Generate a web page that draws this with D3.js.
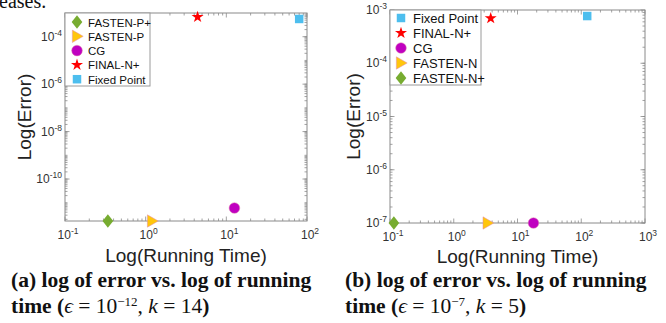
<!DOCTYPE html>
<html>
<head>
<meta charset="utf-8">
<script src="https://cdn.jsdelivr.net/npm/d3@7"></script>
<style>
  body { margin: 0; background: #fff; }
  svg { display: block; }
</style>
</head>
<body>
<div id="chart"></div>
<script>
// panel (a): eps = 1e-12, k = 14
const methodsA = ['FASTEN-P+', 'FASTEN-P', 'CG', 'FINAL-N+', 'Fixed Point'];
const timeA = [0.34, 1.2, 12.6, 4.4, 80];
const errorA = [1.7e-12, 1.7e-12, 6e-12, 6.8e-4, 5.6e-4];
const xDomainA = [0.1, 100];
const yDomainA = [1.7e-12, 1e-3];
const yTicksA = [-10, -8, -6, -4];
const xTicksA = [-1, 0, 1, 2];

// panel (b): eps = 1e-7, k = 5
const methodsB = ['Fixed Point', 'FINAL-N+', 'CG', 'FASTEN-N', 'FASTEN-N+'];
const timeB = [124, 3.8, 17.8, 3.4, 0.115];
const errorB = [7.7e-4, 7e-4, 1e-7, 1e-7, 1e-7];
const xDomainB = [0.1, 1000];
const yDomainB = [1e-7, 1e-3];
const yTicksB = [-7, -6, -5, -4, -3];
const xTicksB = [-1, 0, 1, 2, 3];

const style = {
  'FASTEN-P+': 'diamond', 'FASTEN-N+': 'diamond',
  'FASTEN-P': 'triangle', 'FASTEN-N': 'triangle',
  'CG': 'circle', 'FINAL-N+': 'star', 'Fixed Point': 'square'
};
const colors = {
  diamond: '#77ac30', triangle: '#ffc60c', circle: '#c000c0',
  star: '#ff0000', square: '#4dbeee'
};

const W = 666, H = 323;
const svg = d3.select('#chart').append('svg').attr('width', W).attr('height', H);

// custom matlab-like marker shapes
const wideDiamond = {
  draw(ctx, size) {
    const h = Math.sqrt(size) * 0.72, w = h * 0.78;
    ctx.moveTo(0, -h); ctx.lineTo(w, 0); ctx.lineTo(0, h); ctx.lineTo(-w, 0); ctx.closePath();
  }
};
const rightTriangle = {
  draw(ctx, size) {
    const r = Math.sqrt(size) * 0.62;
    ctx.moveTo(r, 0); ctx.lineTo(-r * 0.75, -r); ctx.lineTo(-r * 0.75, r); ctx.closePath();
  }
};
const shapes = {
  diamond: [wideDiamond, 90],
  triangle: [rightTriangle, 100],
  circle: [d3.symbolCircle, 90],
  star: [d3.symbolStar, 45],
  square: [d3.symbolSquare, 72]
};
function marker(g, kind, x, y) {
  const [type, size] = shapes[kind];
  g.append('path')
    .attr('d', d3.symbol(type, size)())
    .attr('transform', `translate(${x},${y})`)
    .attr('fill', colors[kind])
    .attr('stroke', kind === 'triangle' || kind === 'circle' ? '#e08ab0' : 'none')
    .attr('stroke-width', 0.5);
}

function powLabel(sel, e, anchor) {
  const t = sel.append('text')
    .attr('text-anchor', anchor)
    .style('font-family', 'Liberation Sans, Arial, sans-serif')
    .style('font-size', '12px')
    .attr('fill', '#333');
  t.append('tspan').text('10');
  t.append('tspan').attr('dy', -5).style('font-size', '8.5px').text(e);
  return t;
}

function drawPanel(cfg) {
  const { left, right, top, bottom } = cfg.box;
  const x = d3.scaleLog().domain(cfg.xDomain).range([left, right]);
  const y = d3.scaleLog().domain(cfg.yDomain).range([bottom, top]);
  const g = svg.append('g');
  const axisColor = '#8a8a8a';

  // minor ticks
  const minorX = [];
  for (let e = cfg.xTicks[0]; e < cfg.xTicks[cfg.xTicks.length - 1]; e++)
    for (let m = 2; m <= 9; m++) minorX.push(m * Math.pow(10, e));
  const minorY = [];
  const e0 = Math.floor(Math.log10(cfg.yDomain[0])), e1 = Math.ceil(Math.log10(cfg.yDomain[1]));
  for (let e = e0; e < e1; e++)
    for (let m = 1; m <= 9; m++) {
      const v = m * Math.pow(10, e);
      if (v >= cfg.yDomain[0] && v <= cfg.yDomain[1]) minorY.push(v);
    }

  const tk = g.append('g').attr('stroke', axisColor).attr('stroke-width', 0.8);
  minorX.forEach(v => {
    tk.append('line').attr('x1', x(v)).attr('x2', x(v)).attr('y1', bottom).attr('y2', bottom - 2.5);
    tk.append('line').attr('x1', x(v)).attr('x2', x(v)).attr('y1', top).attr('y2', top + 2.5);
  });
  minorY.forEach(v => {
    tk.append('line').attr('x1', left).attr('x2', left + 2.5).attr('y1', y(v)).attr('y2', y(v));
    tk.append('line').attr('x1', right).attr('x2', right - 2.5).attr('y1', y(v)).attr('y2', y(v));
  });
  cfg.xTicks.forEach(e => {
    const v = Math.pow(10, e);
    tk.append('line').attr('x1', x(v)).attr('x2', x(v)).attr('y1', bottom).attr('y2', bottom - 4.5);
    tk.append('line').attr('x1', x(v)).attr('x2', x(v)).attr('y1', top).attr('y2', top + 4.5);
    powLabel(g, e, 'middle').attr('x', x(v) + 3).attr('y', bottom + cfg.xLabelDy);
  });
  cfg.yTicks.forEach(e => {
    const v = Math.pow(10, e);
    tk.append('line').attr('x1', left).attr('x2', left + 4.5).attr('y1', y(v)).attr('y2', y(v));
    tk.append('line').attr('x1', right).attr('x2', right - 4.5).attr('y1', y(v)).attr('y2', y(v));
    powLabel(g, e, 'end').attr('x', left - 3).attr('y', y(v) + 4);
  });

  g.append('rect')
    .attr('x', left).attr('y', top)
    .attr('width', right - left).attr('height', bottom - top)
    .attr('fill', 'none').attr('stroke', axisColor).attr('stroke-width', 1);

  // axis titles
  g.append('text')
    .attr('x', (left + right) / 2).attr('y', cfg.xTitleY)
    .attr('text-anchor', 'middle')
    .style('font-family', 'Liberation Sans, Arial, sans-serif')
    .style('font-size', '19px').attr('fill', '#222')
    .text('Log(Running Time)');
  g.append('text')
    .attr('transform', `translate(${cfg.yTitleX},${(top + bottom) / 2}) rotate(-90)`)
    .attr('text-anchor', 'middle')
    .style('font-family', 'Liberation Sans, Arial, sans-serif')
    .style('font-size', '19px').attr('fill', '#222')
    .text('Log(Error)');

  // points
  cfg.methods.forEach((m, i) => {
    marker(g, style[m], x(cfg.time[i]), y(cfg.error[i]));
  });

  // legend
  const lg = cfg.legend;
  g.append('rect')
    .attr('x', left).attr('y', top)
    .attr('width', lg.w).attr('height', lg.h)
    .attr('fill', '#fff').attr('stroke', '#9a9a9a').attr('stroke-width', 1);
  cfg.methods.forEach((m, i) => {
    const yy = top + lg.y0 + i * lg.dy;
    marker(g, style[m], left + lg.mx, yy);
    g.append('text')
      .attr('x', left + lg.tx).attr('y', yy + 4.5)
      .style('font-family', 'Liberation Sans, Arial, sans-serif')
      .style('font-size', lg.fs).attr('fill', '#111')
      .text(m);
  });

  // caption
  const cap = g.append('g').style('font-family', 'Liberation Serif, Times New Roman, serif')
    .style('font-size', '21.5px').attr('fill', '#111');
  cap.append('text').attr('x', cfg.capX).attr('y', 287).style('font-weight', 'bold')
    .text(`(${cfg.letter}) log of error vs. log of running`);
  const l2 = cap.append('text').attr('x', cfg.capX).attr('y', 313);
  l2.append('tspan').style('font-weight', 'bold').text('time (');
  l2.append('tspan').style('font-style', 'italic').text('ϵ');
  l2.append('tspan').text(' = 10');
  l2.append('tspan').attr('dy', -7).style('font-size', '13px').text('−' + cfg.epsExp);
  l2.append('tspan').attr('dy', 7).text(', ');
  l2.append('tspan').style('font-style', 'italic').text('k');
  l2.append('tspan').text(' = ' + cfg.k);
  l2.append('tspan').style('font-weight', 'bold').text(')');
}

// cropped text from the paper above
svg.append('text').attr('x', -1).attr('y', 8)
  .style('font-family', 'Liberation Serif, Times New Roman, serif')
  .style('font-size', '20px').attr('fill', '#111').text('eases.');

drawPanel({
  letter: 'a', epsExp: 12, k: 14,
  methods: methodsA, time: timeA, error: errorA,
  xDomain: xDomainA, yDomain: yDomainA, xTicks: xTicksA, yTicks: yTicksA,
  box: { left: 65, right: 307, top: 13, bottom: 221 },
  xLabelDy: 18, xTitleY: 262, yTitleX: 31,
  legend: { w: 85, h: 73, y0: 9, dy: 14.3, mx: 12, tx: 23, fs: '11.5px' },
  capX: 11
});
drawPanel({
  letter: 'b', epsExp: 7, k: 5,
  methods: methodsB, time: timeB, error: errorB,
  xDomain: xDomainB, yDomain: yDomainB, xTicks: xTicksB, yTicks: yTicksB,
  box: { left: 390, right: 645, top: 10, bottom: 223 },
  xLabelDy: 18, xTitleY: 263, yTitleX: 360,
  legend: { w: 91, h: 75, y0: 8, dy: 15, mx: 11, tx: 23, fs: '13px' },
  capX: 345
});
</script>
</body>
</html>
